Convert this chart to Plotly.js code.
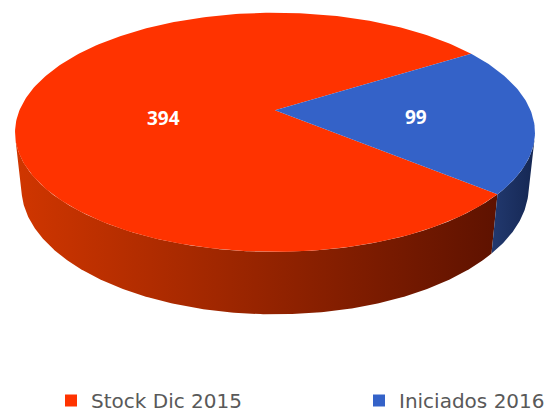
<!DOCTYPE html>
<html><head><meta charset="utf-8">
<script src="https://cdn.plot.ly/plotly-3.0.1.min.js"></script>
<style>html,body{margin:0;padding:0;background:#fff}#chart{width:557px;height:420px}</style>
</head><body><div id="chart"></div>
<script>
// ---- data ----
const labels = ['Stock Dic 2015', 'Iniciados 2016'];
const values = [394, 99];

// ---- style ----
const topColors = ['#FF3300', '#3462C8'];
const sideScales = [
  [[0, '#D03600'], [1, '#5E1200']],
  [[0, '#22396F'], [1, '#152753']]
];
const labelRho = [0.44, 0.55];
const labelShift = [-11, -3];
const legendX = [0.0916, 0.6445];

// ---- 3D projection (camera looking down on a disk) ----
const X0 = 275, Y0 = 113, F = 1233, D = 4.825, PHI = 27.6 * Math.PI / 180, H = 0.253;
const START = -39.8; // first slice angle (deg), slices go clockwise
const cp = Math.cos(PHI), sp = Math.sin(PHI);
function proj(deg, rho, y) {
  const t = deg * Math.PI / 180;
  const X = rho * Math.cos(t), Z = -rho * Math.sin(t);
  const xc = X, yc = y * cp - Z * sp, zc = D - y * sp - Z * cp;
  return [X0 + F * xc / zc, Y0 - F * yc / zc];
}
const zMin = 1 / (D * cp);

const total = values.reduce((a, b) => a + b, 0);
const slices = [];
let a = START;
values.forEach((v, i) => {
  const span = v / total * 360;
  slices.push({ a0: a, a1: a - span, i });
  a -= span;
});

const sideTraces = [], topTraces = [], legendTraces = [], annotations = [];
slices.forEach(s => {
  // top face
  const xs = [X0], ys = [Y0];
  const n = Math.max(2, Math.ceil(s.a0 - s.a1));
  for (let k = 0; k <= n; k++) {
    const p = proj(s.a0 - (s.a0 - s.a1) * k / n, 1, 0);
    xs.push(p[0]); ys.push(p[1]);
  }
  xs.push(X0); ys.push(Y0);
  topTraces.push({
    type: 'scatter', mode: 'lines', x: xs, y: ys, fill: 'toself',
    fillcolor: topColors[s.i], line: { width: 0, color: topColors[s.i] },
    hoverinfo: 'skip', showlegend: false
  });
  // visible side (runs where the cylinder faces the camera)
  const runs = [];
  let cur = null;
  const m = Math.ceil((s.a0 - s.a1) * 2);
  for (let k = 0; k <= m; k++) {
    const d = s.a0 - (s.a0 - s.a1) * k / m;
    const vis = -Math.sin(d * Math.PI / 180) > zMin;
    if (vis) { if (!cur) { cur = []; runs.push(cur); } cur.push(d); }
    else cur = null;
  }
  runs.forEach(r => {
    const sx = [], sy = [];
    r.forEach(d => { const p = proj(d, 1, 0); sx.push(p[0]); sy.push(p[1]); });
    r.slice().reverse().forEach(d => { const p = proj(d, 1, -H); sx.push(p[0]); sy.push(p[1]); });
    sx.push(sx[0]); sy.push(sy[0]);
    sideTraces.push({
      type: 'scatter', mode: 'lines', x: sx, y: sy, fill: 'toself',
      fillgradient: { type: 'horizontal', colorscale: sideScales[s.i] },
      line: { width: 0, color: sideScales[s.i][1][1] },
      hoverinfo: 'skip', showlegend: false
    });
  });
  // label
  const mid = (s.a0 + s.a1) / 2;
  const lp = proj(mid, labelRho[s.i], 0);
  annotations.push({
    x: lp[0], y: lp[1], xref: 'x', yref: 'y', text: '<b>' + values[s.i] + '</b>',
    showarrow: false, yshift: labelShift[s.i],
    font: { family: 'Noto Sans, sans-serif', size: 19, color: '#FFFFFF' }
  });
  // legend entry
  legendTraces.push({
    type: 'scatter', mode: 'markers', x: [null], y: [null], name: labels[s.i],
    legend: s.i === 0 ? 'legend' : 'legend' + (s.i + 1),
    marker: { symbol: 'square', size: 12, color: topColors[s.i] }, hoverinfo: 'skip'
  });
});

const legendFont = { family: 'DejaVu Sans, sans-serif', size: 20, color: '#595959' };
function legendBox(i) {
  return {
    orientation: 'h', x: legendX[i], xanchor: 'left', y: 0.022, yanchor: 'middle',
    font: legendFont, bgcolor: 'rgba(0,0,0,0)'
  };
}

const layout = {
  width: 557, height: 420,
  margin: { l: 0, r: 0, t: 0, b: 0 },
  paper_bgcolor: '#FFFFFF', plot_bgcolor: '#FFFFFF',
  xaxis: { range: [0, 557], visible: false, fixedrange: true },
  yaxis: { range: [420, 0], visible: false, fixedrange: true },
  showlegend: true,
  legend: legendBox(0),
  legend2: legendBox(1),
  annotations: annotations
};

Plotly.newPlot('chart', sideTraces.concat(topTraces, legendTraces), layout, { displayModeBar: false, staticPlot: true });
</script>
</body></html>
